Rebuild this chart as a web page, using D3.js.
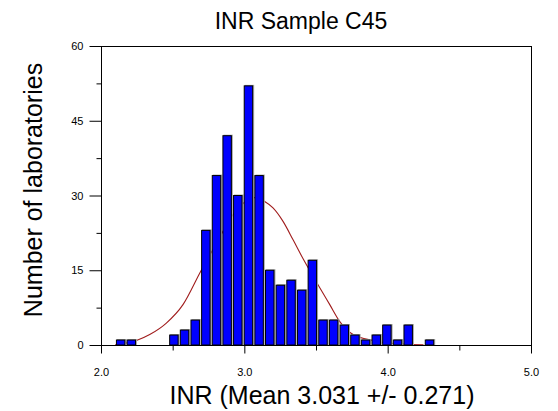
<!DOCTYPE html>
<html>
<head>
<meta charset="utf-8">
<script src="https://cdn.jsdelivr.net/npm/d3@7/dist/d3.min.js"></script>
<style>
  html, body { margin: 0; padding: 0; background: #fff; }
  svg { display: block; }
  text { font-family: "Liberation Sans", Arial, sans-serif; fill: #000; }
</style>
</head>
<body>
<script>
// ---- data ----
const binStart = 2.102;
const binWidth = 0.0743;
const counts = [1, 1, 0, 0, 0, 2, 3, 5, 23, 34, 42, 30, 52, 34, 15, 12, 13, 11, 17, 5, 5, 4, 2, 1, 2, 4, 1, 4, 0, 1];
const xTickLabels = ["2.0", "3.0", "4.0", "5.0"];
const xTickValues = [2, 3, 4, 5];
const xMinorTicks = [2.5, 3.5, 4.5];
const yTickValues = [0, 15, 30, 45, 60];
const yMinorTicks = [7.5, 22.5, 37.5, 52.5];
const curveX = [2.10, 2.247, 2.34, 2.456, 2.572, 2.696, 2.770, 2.847, 2.917, 2.991, 3.06, 3.142, 3.20, 3.27, 3.34, 3.41, 3.514, 3.596, 3.666, 3.759, 3.898, 3.99, 4.10, 4.25];
const curveY = [0.1, 0.9, 2.1, 4.4, 8.1, 14.8, 18.6, 22.6, 26.0, 28.4, 29.6, 28.8, 27.5, 24.8, 21.1, 17.3, 12.1, 8.1, 4.7, 2.1, 0.9, 0.45, 0.2, 0.05];
const title = "INR Sample C45";
const xTitle = "INR (Mean 3.031 +/- 0.271)";
const yTitle = "Number of laboratories";

// ---- layout ----
const W = 558, H = 411;
const L = 101, R = 531, T = 46, B = 345;

const svg = d3.select("body").append("svg").attr("width", W).attr("height", H);

const x = d3.scaleLinear().domain([2, 5]).range([L, R]);
const y = d3.scaleLinear().domain([0, 60]).range([B, T]);

// frame (top and right)
svg.append("line").attr("x1", L).attr("x2", R).attr("y1", T + 0.5).attr("y2", T + 0.5).attr("stroke", "#000");
svg.append("line").attr("x1", R + 0.5).attr("x2", R + 0.5).attr("y1", T).attr("y2", B).attr("stroke", "#000");

// fitted curve (behind bars)
const pts = curveX.map((v, i) => [v, curveY[i]]);
svg.append("path")
  .datum(pts)
  .attr("fill", "none")
  .attr("stroke", "#a01c1c")
  .attr("stroke-width", 1.1)
  .attr("d", d3.line().x(d => x(d[0])).y(d => y(d[1])).curve(d3.curveMonotoneX));

// bars
const bins = counts.map((c, i) => ({ x0: binStart + i * binWidth, x1: binStart + (i + 1) * binWidth, c }));
const g = svg.append("g");
bins.filter(d => d.c > 0).forEach(d => {
  const bx = x(d.x0) + 0.8;
  const bw = x(d.x1) - x(d.x0) - 1.7;
  const by = y(d.c);
  const bh = y(0) - by;
  g.append("rect").attr("x", bx + 0.5).attr("y", by - 1)
    .attr("width", bw + 0.5).attr("height", bh + 1).attr("fill", "#a8a8a8");
  g.append("rect").attr("x", bx).attr("y", by)
    .attr("width", bw - 0.5).attr("height", bh)
    .attr("fill", "#0000ff").attr("stroke", "#000").attr("stroke-width", 1);
});

// x axis
const xAxis = d3.axisBottom(x).tickValues(xTickValues).tickSize(8).tickPadding(15)
  .tickFormat((d, i) => xTickLabels[i]);
const xg = svg.append("g").attr("transform", `translate(0,${B + 0.5})`).call(xAxis);
xg.select(".domain").attr("d", `M${L},0H${R + 1}`);
xg.selectAll("text").style("font-size", "11px").style("font-family", "'Liberation Sans', Arial, sans-serif");
const xm = d3.axisBottom(x).tickValues(xMinorTicks).tickSize(5).tickFormat("");
const xmg = svg.append("g").attr("transform", `translate(0,${B + 0.5})`).call(xm);
xmg.select(".domain").remove();

// y axis
const yAxis = d3.axisLeft(y).tickValues(yTickValues).tickSize(12).tickPadding(6);
const yg = svg.append("g").attr("transform", `translate(${L + 0.5},0)`).call(yAxis);
yg.select(".domain").attr("d", `M0,${T}V${B}`);
yg.selectAll("text").style("font-size", "11px").style("font-family", "'Liberation Sans', Arial, sans-serif");
const ym = d3.axisLeft(y).tickValues(yMinorTicks).tickSize(5).tickFormat("");
const ymg = svg.append("g").attr("transform", `translate(${L + 0.5},0)`).call(ym);
ymg.select(".domain").remove();

// titles
svg.append("text").attr("x", 301).attr("y", 29).attr("text-anchor", "middle")
  .style("font-size", "23px").text(title);
svg.append("text").attr("x", 322).attr("y", 404).attr("text-anchor", "middle")
  .style("font-size", "25px").text(xTitle);
svg.append("text").attr("transform", `translate(42,190) rotate(-90)`).attr("text-anchor", "middle")
  .style("font-size", "25px").text(yTitle);
</script>
</body>
</html>
